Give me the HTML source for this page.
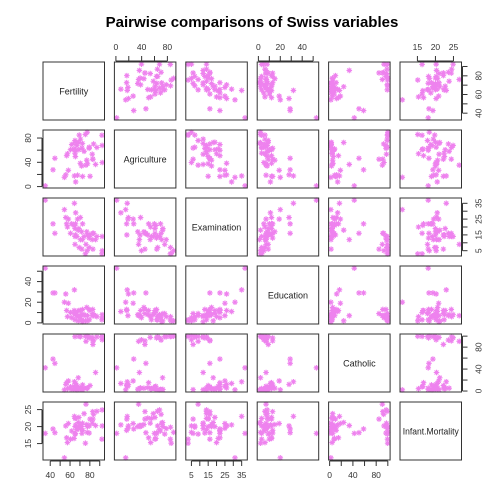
<!DOCTYPE html>
<html><head><meta charset="utf-8"><style>
body{margin:0;background:#fff}
svg{display:block;font-family:"Liberation Sans",sans-serif}
</style></head><body>
<svg id="c" width="504" height="504" viewBox="0 0 504 504">
<text x="252" y="27" text-anchor="middle" font-size="15" font-weight="bold">Pairwise comparisons of Swiss variables</text>
</svg>
<script>
const varNames = ["Fertility","Agriculture","Examination","Education","Catholic","Infant.Mortality"];
const fertility = [80.2,83.1,92.5,85.8,76.9,76.1,83.8,92.4,82.4,82.9,87.1,64.1,66.9,68.9,61.7,68.3,71.7,55.7,54.3,65.1,65.5,65.0,56.6,57.4,72.5,74.2,72.0,60.5,58.3,65.4,75.5,69.3,77.3,70.5,79.4,65.0,92.2,79.3,70.4,65.7,72.7,64.4,77.6,67.6,35.0,44.7,42.8];
const agriculture = [17.0,45.1,39.7,36.5,43.5,35.3,70.2,67.8,53.3,45.2,64.5,62.0,67.5,60.7,69.3,72.6,34.0,19.4,15.2,73.0,59.8,55.1,50.9,54.1,71.2,58.1,63.5,60.8,26.8,49.5,85.9,84.9,89.7,78.2,64.9,75.9,84.6,63.1,38.4,7.7,16.7,17.6,37.6,18.7,1.2,46.6,27.7];
const examination = [15,6,5,12,17,9,16,14,12,16,14,21,14,19,22,18,17,26,31,19,22,14,22,20,12,14,6,16,25,15,3,7,5,12,7,9,3,13,26,29,22,35,15,25,37,16,22];
const education = [12,9,5,7,15,7,7,8,7,13,6,12,7,12,5,2,8,28,20,9,10,3,12,6,1,8,3,10,19,8,2,6,2,6,3,9,3,13,12,11,13,32,7,7,53,29,29];
const catholic = [9.96,84.84,93.40,33.77,5.16,90.57,92.85,97.16,97.67,91.38,98.61,8.52,2.27,4.43,2.82,24.20,3.30,12.11,2.15,2.84,5.23,4.52,15.14,4.20,2.40,5.23,2.56,7.72,18.46,6.10,99.71,99.68,100.00,98.96,98.22,99.06,99.46,96.83,5.62,13.79,11.22,16.92,4.97,8.65,42.34,50.43,58.33];
const infantMortality = [22.2,22.2,20.2,20.3,20.6,26.6,23.6,24.9,21.0,24.4,24.5,16.5,19.1,22.7,18.7,21.2,20.0,20.2,10.8,20.0,18.0,22.4,16.7,15.3,21.0,23.8,18.0,16.3,20.9,22.5,15.1,19.8,18.3,19.4,20.2,17.8,16.3,18.1,20.3,20.5,18.9,23.0,20.0,19.5,18.0,18.2,19.3];
const tickValues = [[40,50,60,70,80,90],[0,20,40,60,80],[5,10,15,20,25,30,35],[0,10,20,30,40,50],[0,20,40,60,80,100],[15,20,25]];
const tickLabels = [[40,60,80],[0,40,80],[5,15,25,35],[0,20,40],[0,40,80],[15,20,25]];

const data=[fertility,agriculture,examination,education,catholic,infantMortality];
const svg=document.getElementById('c');
const NS='http://www.w3.org/2000/svg';
const X0=43,DX=71.4,W=61.5,Y0=62,DY=68,H=58;
function mk(t,a,p){const e=document.createElementNS(NS,t);for(const k in a)e.setAttribute(k,a[k]);(p||svg).appendChild(e);return e;}
function rng(v){const mn=Math.min(...v),mx=Math.max(...v),r=mx-mn;return [mn-0.04*r,mx+0.04*r];}
const ranges=data.map(rng);
function sx(j,v){const[a,b]=ranges[j];return X0+j*DX+(v-a)/(b-a)*W;}
function sy(i,v){const[a,b]=ranges[i];return Y0+i*DY+H-(v-a)/(b-a)*H;}
function star(g,x,y){const r=2.8,d=r*0.707;
 const p=`M${x-r},${y}h${2*r}M${x},${y-r}v${2*r}M${x-d},${y-d}l${2*d},${2*d}M${x-d},${y+d}l${2*d},${-2*d}`;
 const e=mk('path',{d:p,stroke:'#EE82EE','stroke-width':1.1,fill:'none'},g);
 
 }
for(let i=0;i<6;i++)for(let j=0;j<6;j++){
 const g=mk('g',{});
 
 
 const x=X0+j*DX,y=Y0+i*DY;
 if(i===j){const t=mk('text',{x:x+W/2,y:y+H/2+3.5,'text-anchor':'middle','font-size':9,fill:'#222'},g);t.textContent=varNames[i];
  if(i===5){t.setAttribute('textLength','56');t.setAttribute('lengthAdjust','spacingAndGlyphs');}
  
  }
 else{for(let k=0;k<data[0].length;k++)star(g,sx(j,data[j][k]),sy(i,data[i][k]));}
 mk('rect',{x:x,y:y,width:W,height:H,fill:'none',stroke:'#333','stroke-width':1},g);
}
function axisX(j,top){const g=mk('g',{});
 
 
 const yb=top?Y0-1:Y0+5*DY+H+1, s=top?-1:1;
 const tv=tickValues[j];
 mk('line',{x1:sx(j,tv[0]),x2:sx(j,tv[tv.length-1]),y1:yb,y2:yb,stroke:'#333'},g);
 tv.forEach(v=>mk('line',{x1:sx(j,v),x2:sx(j,v),y1:yb,y2:yb+s*5,stroke:'#333'},g));
 tickLabels[j].forEach(v=>{const t=mk('text',{x:sx(j,v),y:top?yb-11:yb+17,'text-anchor':'middle','font-size':8.5,fill:'#333'},g);t.textContent=v;});}
function axisY(i,right){const g=mk('g',{});
 
 
 const xb=right?X0+5*DX+W+1:X0-1, s=right?1:-1;
 const tv=tickValues[i];
 mk('line',{y1:sy(i,tv[0]),y2:sy(i,tv[tv.length-1]),x1:xb,x2:xb,stroke:'#333'},g);
 tv.forEach(v=>mk('line',{y1:sy(i,v),y2:sy(i,v),x1:xb,x2:xb+s*5,stroke:'#333'},g));
 tickLabels[i].forEach(v=>{const tx=right?xb+19:xb-11,ty=sy(i,v);
  const t=mk('text',{x:tx,y:ty,'text-anchor':'middle','font-size':8.5,fill:'#333',transform:`rotate(-90 ${tx} ${ty})`},g);
  t.textContent=v;});}
[1,3,5].forEach(j=>axisX(j,true));
[0,2,4].forEach(j=>axisX(j,false));
[1,3,5].forEach(i=>axisY(i,false));
[0,2,4].forEach(i=>axisY(i,true));
</script>
</body></html>
